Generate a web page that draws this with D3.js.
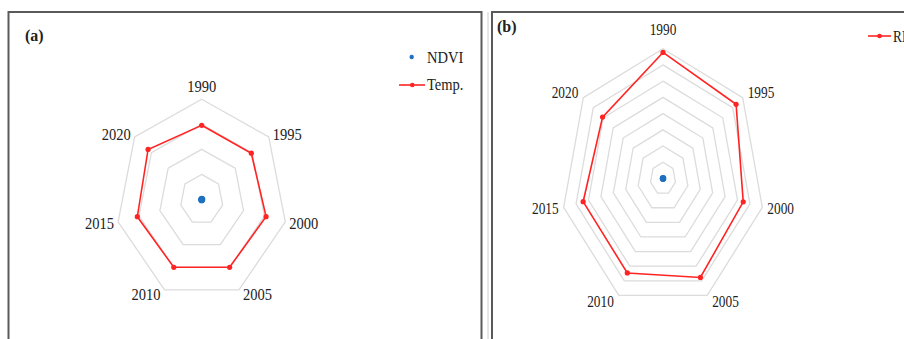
<!DOCTYPE html>
<html>
<head>
<meta charset="utf-8">
<script src="https://cdn.jsdelivr.net/npm/d3@7"></script>
<style>
  html, body { margin: 0; padding: 0; background: #fff; }
  svg { display: block; }
  text { font-family: "Liberation Serif", "Times New Roman", serif; fill: #222; }
</style>
</head>
<body>
<svg id="chart" width="904" height="339"></svg>
<script>
// Years on the radar spokes
const years = ["1990", "1995", "2000", "2005", "2010", "2015", "2020"];

// Panel (a): NDVI and temperature
const ndviA = [0.42, 0.40, 0.38, 0.41, 0.39, 0.37, 0.36];
const tempA = [29.6, 29.6, 30.8, 30.0, 30.0, 30.8, 32.0];
const ringsA = [10, 20, 30, 40];

// Panel (b): NDVI and relative humidity
const ndviB = [0.42, 0.40, 0.38, 0.41, 0.39, 0.37, 0.36];
const rhB = [77.7, 73.4, 64.6, 67.7, 64.6, 64.3, 60.7];
const ringsB = [10, 20, 30, 40, 50, 60, 70, 80];

const svg = d3.select("#chart");
const RED = "#ff2424";
const BLUE = "#1f70c1";
const GRID = "#dcdcdc";

// Panel frames
svg.append("rect").attr("x", 8.5).attr("y", 12).attr("width", 473).attr("height", 340)
  .attr("fill", "none").attr("stroke", "#5a5a5a").attr("stroke-width", 2);
svg.append("line").attr("x1", 488).attr("x2", 488).attr("y1", 12).attr("y2", 339)
  .attr("stroke", "#d0d0d0").attr("stroke-width", 1);
svg.append("rect").attr("x", 492).attr("y", 12).attr("width", 430).attr("height", 340)
  .attr("fill", "none").attr("stroke", "#5a5a5a").attr("stroke-width", 2);

// Panel tags
svg.append("text").attr("x", 25).attr("y", 41).attr("font-size", 16).attr("font-weight", "bold").text("(a)");
svg.append("text").attr("x", 497).attr("y", 32).attr("font-size", 16).attr("font-weight", "bold").text("(b)");

const n = years.length;
const angle = i => i * 2 * Math.PI / n;

function radar(o) {
  const r = d3.scaleLinear().domain([0, o.max]).range([0, o.R]);
  const g = svg.append("g")
    .attr("transform", `translate(${o.cx},${o.cy}) scale(${o.sx},1)`);

  const ringLine = d3.lineRadial()
    .angle((d, i) => angle(i))
    .radius(d => r(d))
    .curve(d3.curveLinearClosed);

  // Grid rings
  g.selectAll("path.ring").data(o.rings).join("path")
    .attr("class", "ring")
    .attr("d", v => ringLine(years.map(() => v)))
    .attr("fill", "none").attr("stroke", GRID).attr("stroke-width", 1.3)
    .attr("vector-effect", "non-scaling-stroke");

  // Spoke labels
  g.selectAll("text.year").data(years).join("text")
    .attr("class", "year")
    .attr("font-size", 17)
    .attr("dominant-baseline", "central")
    .attr("text-anchor", (d, i) => i === 0 ? "middle" : (Math.sin(angle(i)) > 0 ? "start" : "end"))
    .attr("x", (d, i) => {
      const s = Math.sin(angle(i));
      if (i === 0) return 0;
      return o.R * s + Math.sign(s) * o.lx / o.sx;
    })
    .attr("y", (d, i) => {
      const c = Math.cos(angle(i));
      if (i === 0) return -o.R - o.topGap;
      return -o.R * c - c * o.ly - o.lyb;
    })
    .text(d => d);

  // Series line
  const valLine = d3.lineRadial()
    .angle((d, i) => angle(i))
    .radius(d => r(d))
    .curve(d3.curveLinearClosed);
  g.append("path").attr("d", valLine(o.values))
    .attr("fill", "none").attr("stroke", RED).attr("stroke-width", 1.6)
    .attr("vector-effect", "non-scaling-stroke");
  g.selectAll("ellipse.pt").data(o.values).join("ellipse")
    .attr("class", "pt")
    .attr("cx", (d, i) => r(d) * Math.sin(angle(i)))
    .attr("cy", (d, i) => -r(d) * Math.cos(angle(i)))
    .attr("rx", 2.6 / o.sx).attr("ry", 2.6)
    .attr("fill", RED);

  // NDVI markers (no line)
  g.selectAll("ellipse.nd").data(o.ndvi).join("ellipse")
    .attr("class", "nd")
    .attr("cx", (d, i) => r(d) * Math.sin(angle(i)))
    .attr("cy", (d, i) => -r(d) * Math.cos(angle(i)))
    .attr("rx", 2.8 / o.sx).attr("ry", 2.8)
    .attr("fill", BLUE);
}

radar({ cx: 201.7, cy: 199.5, R: 100.3, sx: 0.855, max: 40, rings: ringsA,
        values: tempA, ndvi: ndviA, topGap: 13.5, lx: 4, ly: 5, lyb: 0 });
radar({ cx: 663, cy: 178.5, R: 129.8, sx: 0.785, max: 80, rings: ringsB,
        values: rhB, ndvi: ndviB, topGap: 19.5, lx: 5, ly: 7, lyb: 1 });

// Legend, panel (a)
const legA = svg.append("g").attr("transform", "translate(0,0)");
legA.append("circle").attr("cx", 411.7).attr("cy", 57).attr("r", 2.2).attr("fill", BLUE);
legA.append("text").attr("transform", "translate(427,63) scale(0.855,1)").attr("font-size", 17).text("NDVI");
legA.append("line").attr("x1", 399).attr("x2", 425).attr("y1", 85).attr("y2", 85)
  .attr("stroke", RED).attr("stroke-width", 1.6);
legA.append("circle").attr("cx", 412.3).attr("cy", 85).attr("r", 2.3).attr("fill", RED);
legA.append("text").attr("transform", "translate(427,90) scale(0.855,1)").attr("font-size", 17).text("Temp.");

// Legend, panel (b)
const legB = svg.append("g");
legB.append("line").attr("x1", 868).attr("x2", 891).attr("y1", 36).attr("y2", 36)
  .attr("stroke", RED).attr("stroke-width", 1.6);
legB.append("circle").attr("cx", 879.5).attr("cy", 36).attr("r", 2.3).attr("fill", RED);
legB.append("text").attr("transform", "translate(893,42) scale(0.785,1)").attr("font-size", 17).text("RH");
</script>
</body>
</html>
